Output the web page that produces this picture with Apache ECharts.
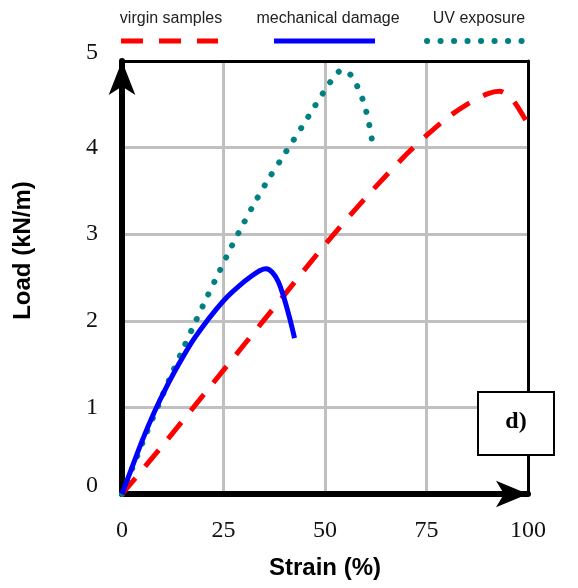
<!DOCTYPE html>
<html>
<head>
<meta charset="utf-8">
<script src="https://cdn.jsdelivr.net/npm/echarts@6/dist/echarts.min.js"></script>
<style>
  html, body { margin: 0; padding: 0; background: #fff; }
  #chart { width: 578px; height: 588px; }
</style>
</head>
<body>
<div id="chart"></div>
<script>
// strain (%) / load (kN/m)
var strainVirgin = [0, 10, 20, 30, 40, 50, 60, 70, 75, 80, 85, 90, 93, 96, 98, 100];
var loadVirgin = [0, 0.56, 1.14, 1.72, 2.3, 2.88, 3.42, 3.92, 4.14, 4.34, 4.5, 4.62, 4.65, 4.56, 4.43, 4.27];

var strainDamage = [0, 2, 5, 8, 11, 14, 17, 20, 23, 26, 29, 32, 34, 35.5, 37, 38.5, 40, 41.3, 42.5];
var loadDamage = [0, 0.25, 0.62, 0.95, 1.24, 1.5, 1.74, 1.94, 2.12, 2.28, 2.41, 2.52, 2.58, 2.6, 2.56, 2.45, 2.25, 2.03, 1.8];

var strainUV = [0, 3, 6, 9, 12, 15, 18, 21, 24, 27, 30, 33, 36, 39.4, 44.6, 49.8, 52.3, 54.3, 56.7, 58.2, 59.4, 60.3, 61, 61.6];
var loadUV = [0, 0.35, 0.7, 1.03, 1.36, 1.67, 1.98, 2.28, 2.57, 2.86, 3.13, 3.39, 3.63, 3.88, 4.26, 4.65, 4.82, 4.9, 4.82, 4.68, 4.54, 4.39, 4.24, 4.08];

var seriesNames = ['virgin samples', 'mechanical damage', 'UV exposure'];

function pairs(xs, ys) {
    var out = [];
    for (var i = 0; i < xs.length; i++) out.push([xs[i], ys[i]]);
    return out;
}

var chart = echarts.init(document.getElementById('chart'));

var serif = '"Liberation Serif", "Times New Roman", serif';
var sans = '"Liberation Sans", Arial, sans-serif';

var option = {
    animation: false,
    backgroundColor: '#fff',
    grid: { left: 122, right: 50, top: 61, bottom: 94 },
    xAxis: [{
        type: 'value',
        min: 0, max: 100, interval: 25,
        name: 'Strain (%)',
        nameLocation: 'middle',
        nameGap: 62,
        nameTextStyle: { fontFamily: sans, fontWeight: 'bold', fontSize: 24, color: '#000' },
        axisLine: { show: true, symbol: ['none', 'arrow'], symbolSize: [20, 32], lineStyle: { color: '#000', width: 6 } },
        axisTick: { show: false },
        axisLabel: { fontFamily: serif, fontSize: 24, color: '#111', margin: 25 },
        splitLine: { show: true, lineStyle: { color: '#c0c0c0', width: 3 } }
    }, {
        type: 'value',
        position: 'top',
        min: 0, max: 100,
        axisLine: { show: true, onZero: false, lineStyle: { color: '#000', width: 3 } },
        axisTick: { show: false },
        axisLabel: { show: false },
        splitLine: { show: false }
    }],
    yAxis: [{
        type: 'value',
        min: 0, max: 5, interval: 1,
        name: 'Load (kN/m)',
        nameLocation: 'middle',
        nameRotate: 90,
        nameGap: 87,
        nameTextStyle: { fontFamily: sans, fontWeight: 'bold', fontSize: 24, color: '#000', padding: [0, 0, 0, 54] },
        axisLine: { show: true, symbol: ['none', 'arrow'], symbolSize: [20, 34], lineStyle: { color: '#000', width: 6 } },
        axisTick: { show: false },
        axisLabel: {
            fontFamily: serif, fontSize: 24, color: '#111', margin: 24,
            formatter: function (v) {
                return (v === 0 || v === 5) ? '{e|' + v + '}' : String(v);
            },
            rich: {
                e: { fontFamily: serif, fontSize: 24, color: '#111', padding: [0, 0, 17, 0] }
            }
        },
        splitLine: { show: true, lineStyle: { color: '#c0c0c0', width: 3 } }
    }, {
        type: 'value',
        position: 'right',
        min: 0, max: 5,
        axisLine: { show: true, onZero: false, lineStyle: { color: '#000', width: 3 } },
        axisTick: { show: false },
        axisLabel: { show: false },
        splitLine: { show: false }
    }],
    series: [{
        name: seriesNames[2],
        type: 'line',
        smooth: 0.3,
        showSymbol: false,
        data: pairs(strainUV, loadUV),
        lineStyle: { color: '#008080', width: 6, type: [0.1, 13.5], cap: 'round' },
        z: 3
    }, {
        name: seriesNames[0],
        type: 'line',
        smooth: 0.3,
        showSymbol: false,
        data: pairs(strainVirgin, loadVirgin),
        lineStyle: { color: '#ff0000', width: 5, type: [21, 15] },
        z: 4
    }, {
        name: seriesNames[1],
        type: 'line',
        smooth: 0.3,
        showSymbol: false,
        data: pairs(strainDamage, loadDamage),
        lineStyle: { color: '#0000ff', width: 5 },
        z: 5
    }],
    graphic: [
        // legend: label on top, line sample underneath
        { type: 'text', x: 171, y: 19, style: { text: seriesNames[0], font: '16px ' + sans, fill: '#222', align: 'center', verticalAlign: 'middle', textAlign: 'center', textVerticalAlign: 'middle' } },
        { type: 'line', shape: { x1: 121, y1: 41, x2: 218, y2: 41 }, style: { stroke: '#ff0000', lineWidth: 5, lineDash: [22, 16] } },
        { type: 'text', x: 328, y: 19, style: { text: seriesNames[1], font: '16px ' + sans, fill: '#222', align: 'center', verticalAlign: 'middle', textAlign: 'center', textVerticalAlign: 'middle' } },
        { type: 'line', shape: { x1: 274, y1: 41, x2: 375, y2: 41 }, style: { stroke: '#0000ff', lineWidth: 5 } },
        { type: 'text', x: 479, y: 19, style: { text: seriesNames[2], font: '16px ' + sans, fill: '#222', align: 'center', verticalAlign: 'middle', textAlign: 'center', textVerticalAlign: 'middle' } },
        { type: 'line', shape: { x1: 427, y1: 41, x2: 522, y2: 41 }, style: { stroke: '#008080', lineWidth: 6, lineDash: [0.1, 13.4], lineCap: 'round' } },
        // panel tag
        { type: 'rect', z: 100, shape: { x: 478, y: 392, width: 76, height: 63 }, style: { fill: '#fff', stroke: '#000', lineWidth: 2 } },
        { type: 'text', z: 101, x: 516, y: 422, style: { text: 'd)', font: 'bold 24px ' + serif, fill: '#000', align: 'center', verticalAlign: 'middle', textAlign: 'center', textVerticalAlign: 'middle' } }
    ]
};

chart.setOption(option);
</script>
</body>
</html>
